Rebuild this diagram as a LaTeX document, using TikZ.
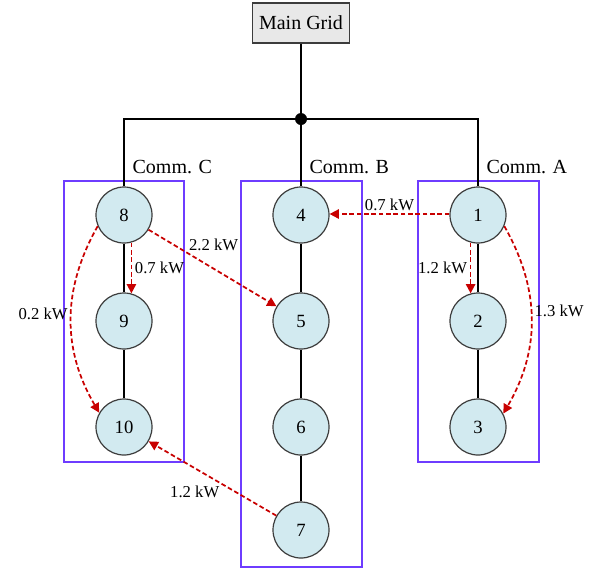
\documentclass[tikz,border=0pt]{standalone}
\usepackage{fontspec}
\setmainfont{Liberation Serif}
\usetikzlibrary{arrows.meta, positioning, calc}
\definecolor{mgblue}{RGB}{210, 234, 240}
\definecolor{mggray}{RGB}{232, 232, 232}
\definecolor{mgred}{RGB}{200, 0, 0}
\definecolor{mgviolet}{RGB}{110, 60, 255}
\definecolor{mgdark}{RGB}{60, 60, 60}

\begin{document}
\begin{tikzpicture}[
    x=0.75pt, y=-0.75pt,
    bus/.style={
        circle,
        draw=mgdark,
        fill=mgblue,
        line width=0.9pt,
        minimum size=42pt,
        inner sep=0pt,
        font=\fontsize{14}{16}\selectfont
    },
    gridbox/.style={rectangle, draw=mgdark, fill=mggray, line width=0.9pt,
        minimum width=73pt, minimum height=30pt, font=\fontsize{15}{18}\selectfont},
    dot/.style={circle, fill=black, minimum size=9pt, inner sep=0pt},
    feeder/.style={line width=2.1pt},
    trade/.style={-{Triangle[length=7pt, width=7pt]}, color=mgred, line width=1.3pt, dash pattern=on 3.5pt off 2pt},
    commbox/.style={draw=mgviolet, line width=0.8pt},
    comm/.style={font=\fontsize{15}{18}\selectfont, anchor=west, inner sep=1pt},
    kw/.style={font=\fontsize{12.5}{14}\selectfont, text=black, inner sep=2pt}
]
\useasboundingbox (0,0) rectangle (591,572);

% Community boxes
\draw[commbox] (64,181) rectangle (184,462);
\draw[commbox] (241,181) rectangle (362,567);
\draw[commbox] (418,181) rectangle (539,462);

% Main grid and junction
\node[gridbox] (grid) at (301,23) {Main Grid};
\node[dot] (junction) at (301,119) {};

% Community C
\node[bus] (n8) at (124,215) {8};
\node[bus] (n9) at (124,321) {9};
\node[bus] (n10) at (124,427) {10};

% Community B
\node[bus] (n4) at (301,215) {4};
\node[bus] (n5) at (301,321) {5};
\node[bus] (n6) at (301,427) {6};
\node[bus] (n7) at (301,530) {7};

% Community A
\node[bus] (n1) at (478,215) {1};
\node[bus] (n2) at (478,321) {2};
\node[bus] (n3) at (478,427) {3};

% Community labels
\node[comm] (commC) at (131,167) {Comm. C};
\node[comm] (commB) at (308,167) {Comm. B};
\node[comm] (commA) at (485,167) {Comm. A};

% Feeders
\draw[feeder] (grid) -- (n4);
\draw[feeder] (n8) |- (junction) -| (n1);
\draw[feeder] (n8) -- (n9) -- (n10);
\draw[feeder] (n4) -- (n5) -- (n6) -- (n7);
\draw[feeder] (n1) -- (n2) -- (n3);

% Energy trades
\draw[trade] (n1.178) -- (n4.2) node[kw, midway, above] {0.7 kW};
\draw[trade] (n1.-105) -- (n2.105) node[kw, midway, left] {1.2 kW};
\draw[trade] (n1.-23) to[bend left=30] node[kw, pos=0.45, right] {1.3 kW} (n3.28);
\draw[trade] (n8.-75) -- (n9.75) node[kw, midway, right] {0.7 kW};
\draw[trade] (n8.203) to[bend right=30] node[kw, pos=0.47, left] {0.2 kW} (n10.150);
\draw[trade] (n8) -- (n5) node[kw, pos=0.3, above right, inner sep=1pt] {2.2 kW};
\draw[trade] (n7) -- (n10) node[kw, pos=0.43, below left, inner sep=1pt] {1.2 kW};

\end{tikzpicture}
\end{document}
